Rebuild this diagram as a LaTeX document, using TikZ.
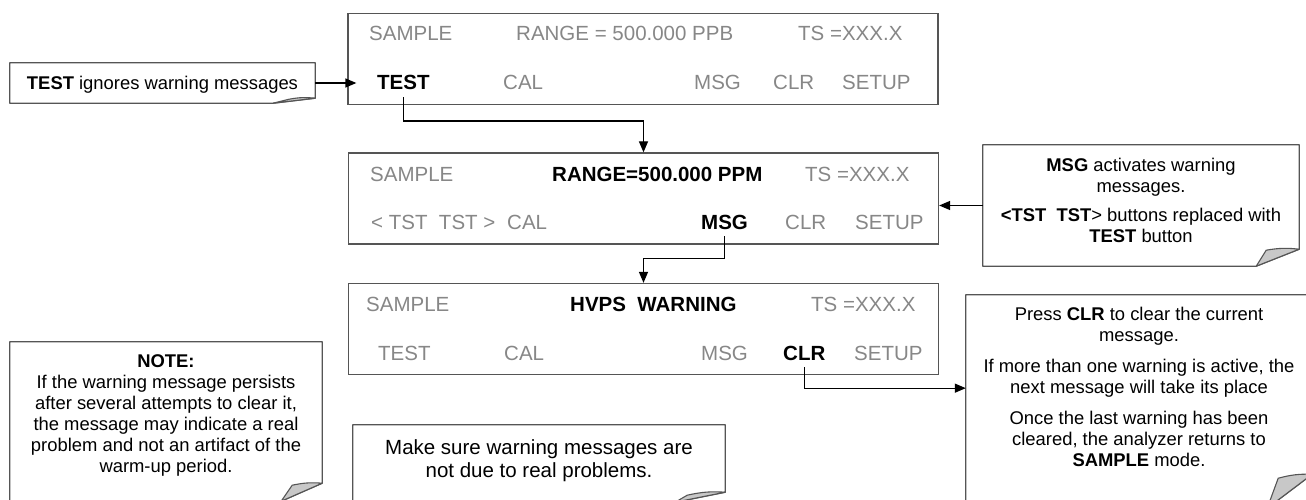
\documentclass[tikz,border=0pt]{standalone}
\usepackage{fontspec}
\setmainfont{Liberation Sans}
\usepackage{tikz}
\usetikzlibrary{arrows.meta, positioning}
\usetikzlibrary{calc}

\definecolor{lcdgray}{RGB}{135,135,135}
\definecolor{framegray}{RGB}{85,85,85}
\definecolor{flapgray}{RGB}{200,200,200}

% frame of a callout with its corner turned down
\newcommand{\dogframe}[5]{%
  \draw[framegray, line width=1.3pt, line join=round]
    (#1.north west) -- (#1.north east) -- ($(#1.south east)+(0,#5)$)
    -- ($(#1.south east)+(#2,0)$) -- (#1.south west) -- cycle;
  \draw[framegray, line width=1.1pt, fill=flapgray, line join=round]
    ($(#1.south east)+(#2,0)$) -- ($(#1.south east)+(#3,#4)$)
    to[bend left=8] ($(#1.south east)+(0,#5)$) -- cycle;
}

\begin{document}
\begin{tikzpicture}[x=1pt, y=-1pt,
    lcd/.style={draw=framegray, line width=1.3pt, minimum width=590pt, minimum height=91pt, inner sep=0pt},
    lcdtxt/.style={anchor=base west, inner xsep=0pt, inner ysep=7pt, text=lcdgray, font=\fontsize{20.5}{24}\selectfont},
    lcdkey/.style={lcdtxt, text=black, font=\fontsize{20.5}{24}\selectfont\bfseries},
    callout/.style={inner sep=0pt},
    calltxt/.style={align=center, inner sep=0pt, font=\fontsize{18.4}{21}\selectfont},
    link/.style={line width=1.3pt, -{Triangle[length=11pt,width=9pt]}}]

    \path[use as bounding box, fill=white] (0,0) rectangle (1306,500);

    % the three displays
    \node[lcd] (dispA) at (643,59) {};
    \node[lcd] (dispB) at (643.5,198.5) {};
    \node[lcd] (dispC) at (643.5,329) {};

    \node[lcdtxt] (sampleA) at (369,41) {SAMPLE};
    \node[lcdtxt] (rangeA) at (516,41) {RANGE = 500.000 PPB};
    \node[lcdtxt] (tsA) at (798,41) {TS =XXX.X};
    \node[lcdkey] (testA) at (377,90) {TEST};
    \node[lcdtxt] (calA) at (503,90) {CAL};
    \node[lcdtxt] (msgA) at (694,90) {MSG};
    \node[lcdtxt] (clrA) at (773,90) {CLR};
    \node[lcdtxt] (setupA) at (842,90) {SETUP};

    \node[lcdtxt] (sampleB) at (370,181) {SAMPLE};
    \node[lcdkey] (rangeB) at (552,181) {RANGE=500.000 PPM};
    \node[lcdtxt] (tsB) at (805,181) {TS =XXX.X};
    \node[lcdtxt] (tstB) at (371,229) {< TST\ \ TST >};
    \node[lcdtxt] (calB) at (507,229) {CAL};
    \node[lcdkey] (msgB) at (701,229) {MSG};
    \node[lcdtxt] (clrB) at (785,229) {CLR};
    \node[lcdtxt] (setupB) at (855,229) {SETUP};

    \node[lcdtxt] (sampleC) at (366,311) {SAMPLE};
    \node[lcdkey] (hvpsC) at (570,311) {HVPS\ \ WARNING};
    \node[lcdtxt] (tsC) at (811,311) {TS =XXX.X};
    \node[lcdtxt] (testC) at (378,360) {TEST};
    \node[lcdtxt] (calC) at (504,360) {CAL};
    \node[lcdtxt] (msgC) at (701,360) {MSG};
    \node[lcdkey] (clrC) at (783,360) {CLR};
    \node[lcdtxt] (setupC) at (854,360) {SETUP};

    % callouts
    \node[callout, minimum width=305pt, minimum height=40pt] (ignoreNote) at (162.5,83) {};
    \node[callout, minimum width=316pt, minimum height=121pt] (msgNote) at (1141,205.5) {};
    \node[callout, minimum width=346pt, minimum height=213pt] (clrNote) at (1139,401.5) {};
    \node[callout, minimum width=312pt, minimum height=159pt] (noteBox) at (166,421.5) {};
    \node[callout, minimum width=372pt, minimum height=77pt] (sureNote) at (539,463.5) {};

    \dogframe{ignoreNote}{-42}{-26}{-4}{-5}
    \dogframe{msgNote}{-43}{-33}{-16}{-17}
    \dogframe{clrNote}{-45}{-34}{-30}{-34}
    \dogframe{noteBox}{-41}{-30}{-16}{-18}
    \dogframe{sureNote}{-50}{-38}{-7}{-10}

    \node[calltxt, below=12.8pt of ignoreNote.north] (ignoreTxt) {\textbf{TEST} ignores warning messages};
    \node[calltxt, font=\fontsize{18.4}{21}\selectfont, below=13.5pt of msgNote.north] (msgTxt)
        {\textbf{MSG} activates warning\\ messages.\\[8pt]
         \textbf{<TST\ \ TST}> buttons replaced with\\ \textbf{TEST} button};
    \node[calltxt, below=11.8pt of clrNote.north] (clrTxt)
        {Press \textbf{CLR} to clear the current\\ message.\\[10pt]
         If more than one warning is active, the\\ next message will take its place\\[10pt]
         Once the last warning has been\\ cleared, the analyzer returns to\\ \textbf{SAMPLE} mode.};
    \node[calltxt, below=12.8pt of noteBox.north] (noteTxt)
        {\textbf{NOTE:}\\ If the warning message persists\\ after several attempts to clear it,\\
         the message may indicate a real\\ problem and not an artifact of the\\ warm-up period.};
    \node[calltxt, font=\fontsize{20.5}{23}\selectfont, below=14.3pt of sureNote.north] (sureTxt)
        {Make sure warning messages are\\ not due to real problems.};

    % connectors
    \draw[link] (ignoreNote.east) -- ([xshift=9pt]ignoreNote.east -| dispA.west);
    \draw[link] (testA.south) -- ([yshift=-16pt]testA.south |- dispA.south) -| (dispB.north);
    \draw[link] (msgNote.west) -- (msgNote.west -| dispB.east);
    \draw[link] (msgB.south) -- ([yshift=-14pt]msgB.south |- dispB.south) -| (dispC.north);
    \draw[link] (clrC.south) |- ([yshift=-13pt]dispC.south -| clrNote.west);
\end{tikzpicture}
\end{document}
